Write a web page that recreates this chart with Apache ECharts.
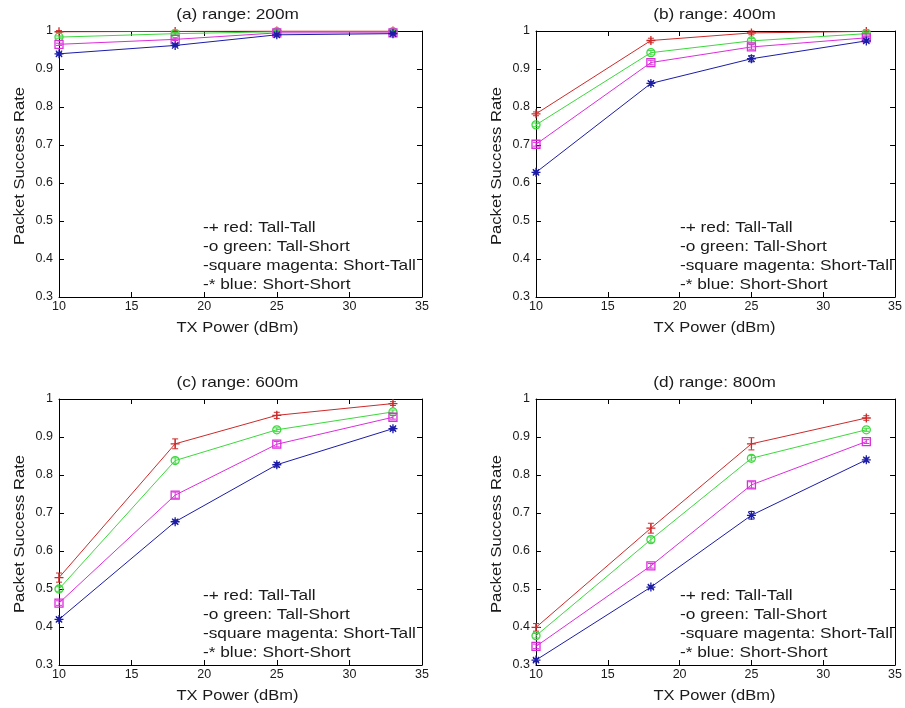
<!DOCTYPE html>
<html>
<head>
<meta charset="utf-8">
<script src="https://cdn.jsdelivr.net/npm/echarts@6/dist/echarts.min.js"></script>
<style>
  html, body { margin: 0; padding: 0; background: #fff; }
  #chart { width: 905px; height: 708px; }
</style>
</head>
<body>
<div id="chart"></div>
<script>
// TX power settings (dBm) shared by every panel
const txPower = [10, 18, 25, 33];
const panelTitles = ['(a) range: 200m', '(b) range: 400m', '(c) range: 600m', '(d) range: 800m'];
const xTicks = [10, 15, 20, 25, 30, 35];
const yTicks = [0.3, 0.4, 0.5, 0.6, 0.7, 0.8, 0.9, 1];

// Packet success rate per antenna configuration, one row per range panel
const tallTall = [
  [0.998, 0.999, 1.0, 1.0],
  [0.782, 0.975, 0.995, 0.999],
  [0.530, 0.882, 0.957, 0.988],
  [0.399, 0.660, 0.882, 0.950]
];
const tallShort = [
  [0.984, 0.993, 0.998, 0.998],
  [0.753, 0.943, 0.974, 0.993],
  [0.500, 0.838, 0.919, 0.966],
  [0.377, 0.630, 0.844, 0.919]
];
const shortTall = [
  [0.965, 0.978, 0.995, 0.995],
  [0.702, 0.917, 0.958, 0.982],
  [0.463, 0.747, 0.881, 0.952],
  [0.349, 0.561, 0.774, 0.888]
];
const shortShort = [
  [0.940, 0.962, 0.990, 0.993],
  [0.628, 0.862, 0.927, 0.974],
  [0.420, 0.677, 0.827, 0.922],
  [0.313, 0.505, 0.694, 0.840]
];

// Half-widths of the error bars
const tallTallErr = [
  [0.003, 0.003, 0.003, 0.003],
  [0.005, 0.006, 0.005, 0.004],
  [0.012, 0.013, 0.008, 0.005],
  [0.010, 0.013, 0.016, 0.006]
];
const tallShortErr = [
  [0.003, 0.003, 0.003, 0.003],
  [0.005, 0.006, 0.006, 0.004],
  [0.006, 0.007, 0.005, 0.005],
  [0.006, 0.007, 0.007, 0.004]
];
const shortTallErr = [
  [0.003, 0.003, 0.003, 0.003],
  [0.005, 0.006, 0.006, 0.004],
  [0.006, 0.008, 0.007, 0.005],
  [0.006, 0.006, 0.008, 0.005]
];
const shortShortErr = [
  [0.003, 0.003, 0.003, 0.003],
  [0.004, 0.005, 0.008, 0.004],
  [0.005, 0.005, 0.006, 0.004],
  [0.004, 0.004, 0.010, 0.005]
];

const legendLines = [
  '-+ red: Tall-Tall',
  '-o green: Tall-Short',
  '-square magenta: Short-Tall',
  '-* blue: Short-Short'
];

// ---- styling ----
const FONT = '"Liberation Sans", Arial, sans-serif';
const TEXT = '#1a1a1a';
const PLUS = 'path://M5,0 L5,10 M0,5 L10,5';
const STAR = 'path://M5,0 L5,10 M0,5 L10,5 M1.5,1.5 L8.5,8.5 M8.5,1.5 L1.5,8.5';
const seriesDefs = [
  { vals: tallTall, err: tallTallErr, color: '#cc2a2a', symbol: PLUS, size: 9 },
  { vals: tallShort, err: tallShortErr, color: '#3cd83c', symbol: 'circle', size: 8 },
  { vals: shortTall, err: shortTallErr, color: '#dc2ddc', symbol: 'rect', size: 8 },
  { vals: shortShort, err: shortShortErr, color: '#1c1ca8', symbol: STAR, size: 9 }
];

// panel layout (pixels)
const PW = 363, PH = 266;
const panelPos = [[59, 31], [536, 31], [59, 399], [536, 399]];

const grid = [], xAxis = [], yAxis = [], series = [], graphic = [];

const tickStyle = { show: true, inside: true, length: 5, lineStyle: { color: '#000', width: 1 } };
const axisLineStyle = { show: true, lineStyle: { color: '#000', width: 1 } };

panelPos.forEach(([left, top], p) => {
  grid.push({ left: left, top: top, width: PW, height: PH, show: false, containLabel: false });

  const xBase = {
    type: 'value', gridIndex: p, min: xTicks[0], max: xTicks[xTicks.length - 1], interval: 5,
    axisLine: axisLineStyle, axisTick: tickStyle, splitLine: { show: false }
  };
  xAxis.push(Object.assign({}, xBase, {
    position: 'bottom',
    axisLabel: { fontFamily: FONT, fontSize: 12.5, color: TEXT, margin: 3 }
  }));
  xAxis.push(Object.assign({}, xBase, { position: 'top', axisLabel: { show: false } }));

  const yBase = {
    type: 'value', gridIndex: p, min: yTicks[0], max: yTicks[yTicks.length - 1], interval: 0.1,
    axisLine: axisLineStyle, axisTick: tickStyle, splitLine: { show: false }
  };
  yAxis.push(Object.assign({}, yBase, {
    position: 'left',
    axisLabel: {
      fontFamily: FONT, fontSize: 12.5, color: TEXT, margin: 6,
      formatter: v => (Math.abs(v - 1) < 1e-9 ? '1' : v.toFixed(1))
    }
  }));
  yAxis.push(Object.assign({}, yBase, { position: 'right', axisLabel: { show: false } }));

  seriesDefs.forEach((s, k) => {
    const pts = txPower.map((x, j) => [x, s.vals[p][j]]);
    const errPts = txPower.map((x, j) => [x, s.vals[p][j], s.err[p][j]]);
    series.push({
      type: 'custom',
      coordinateSystem: 'cartesian2d',
      xAxisIndex: p * 2, yAxisIndex: p * 2,
      data: errPts,
      encode: { x: 0, y: 1 },
      silent: true,
      z: 3 + k,
      renderItem: (params, api) => {
        const x = api.value(0), y = api.value(1), e = api.value(2);
        const hi = api.coord([x, y + e]);
        const lo = api.coord([x, y - e]);
        const hw = 3;
        const st = { stroke: s.color, lineWidth: 1 };
        return {
          type: 'group',
          children: [
            { type: 'line', shape: { x1: hi[0], y1: hi[1], x2: lo[0], y2: lo[1] }, style: st },
            { type: 'line', shape: { x1: hi[0] - hw, y1: hi[1], x2: hi[0] + hw, y2: hi[1] }, style: st },
            { type: 'line', shape: { x1: lo[0] - hw, y1: lo[1], x2: lo[0] + hw, y2: lo[1] }, style: st }
          ]
        };
      }
    });
    series.push({
      type: 'line',
      xAxisIndex: p * 2, yAxisIndex: p * 2,
      data: pts,
      symbol: s.symbol,
      symbolSize: s.size,
      showAllSymbol: true,
      z: 3 + k,
      lineStyle: { color: s.color, width: 1 },
      itemStyle: { color: 'rgba(0,0,0,0)', borderColor: s.color, borderWidth: 1.3 },
      emphasis: { disabled: true },
      silent: true
    });
  });

  const cx = left + PW / 2;
  // panel title
  graphic.push({
    type: 'text', x: cx - 3, y: top - 16, scaleX: 1.15,
    style: { text: panelTitles[p], font: '15px ' + FONT, fill: TEXT, align: 'center', verticalAlign: 'middle' }
  });
  // x axis name
  graphic.push({
    type: 'text', x: cx - 3, y: top + PH + 31, scaleX: 1.1,
    style: { text: 'TX Power (dBm)', font: '15px ' + FONT, fill: TEXT, align: 'center', verticalAlign: 'middle' }
  });
  // y axis name
  graphic.push({
    type: 'text', x: left - 39, y: top + PH / 2 + 2, rotation: Math.PI / 2, scaleX: 1.11,
    style: { text: 'Packet Success Rate', font: '15px ' + FONT, fill: TEXT, align: 'center', verticalAlign: 'middle' }
  });
  // in-plot key text
  legendLines.forEach((line, i) => {
    graphic.push({
      type: 'text', x: left + 144, y: top + 197 + i * 18.8, scaleX: 1.15,
      style: { text: line, font: '15px ' + FONT, fill: TEXT, align: 'left', verticalAlign: 'middle' }
    });
  });
});

const chart = echarts.init(document.getElementById('chart'), null, { renderer: 'canvas' });
chart.setOption({
  animation: false,
  backgroundColor: '#fff',
  grid: grid,
  xAxis: xAxis,
  yAxis: yAxis,
  series: series,
  graphic: graphic
});
</script>
</body>
</html>
